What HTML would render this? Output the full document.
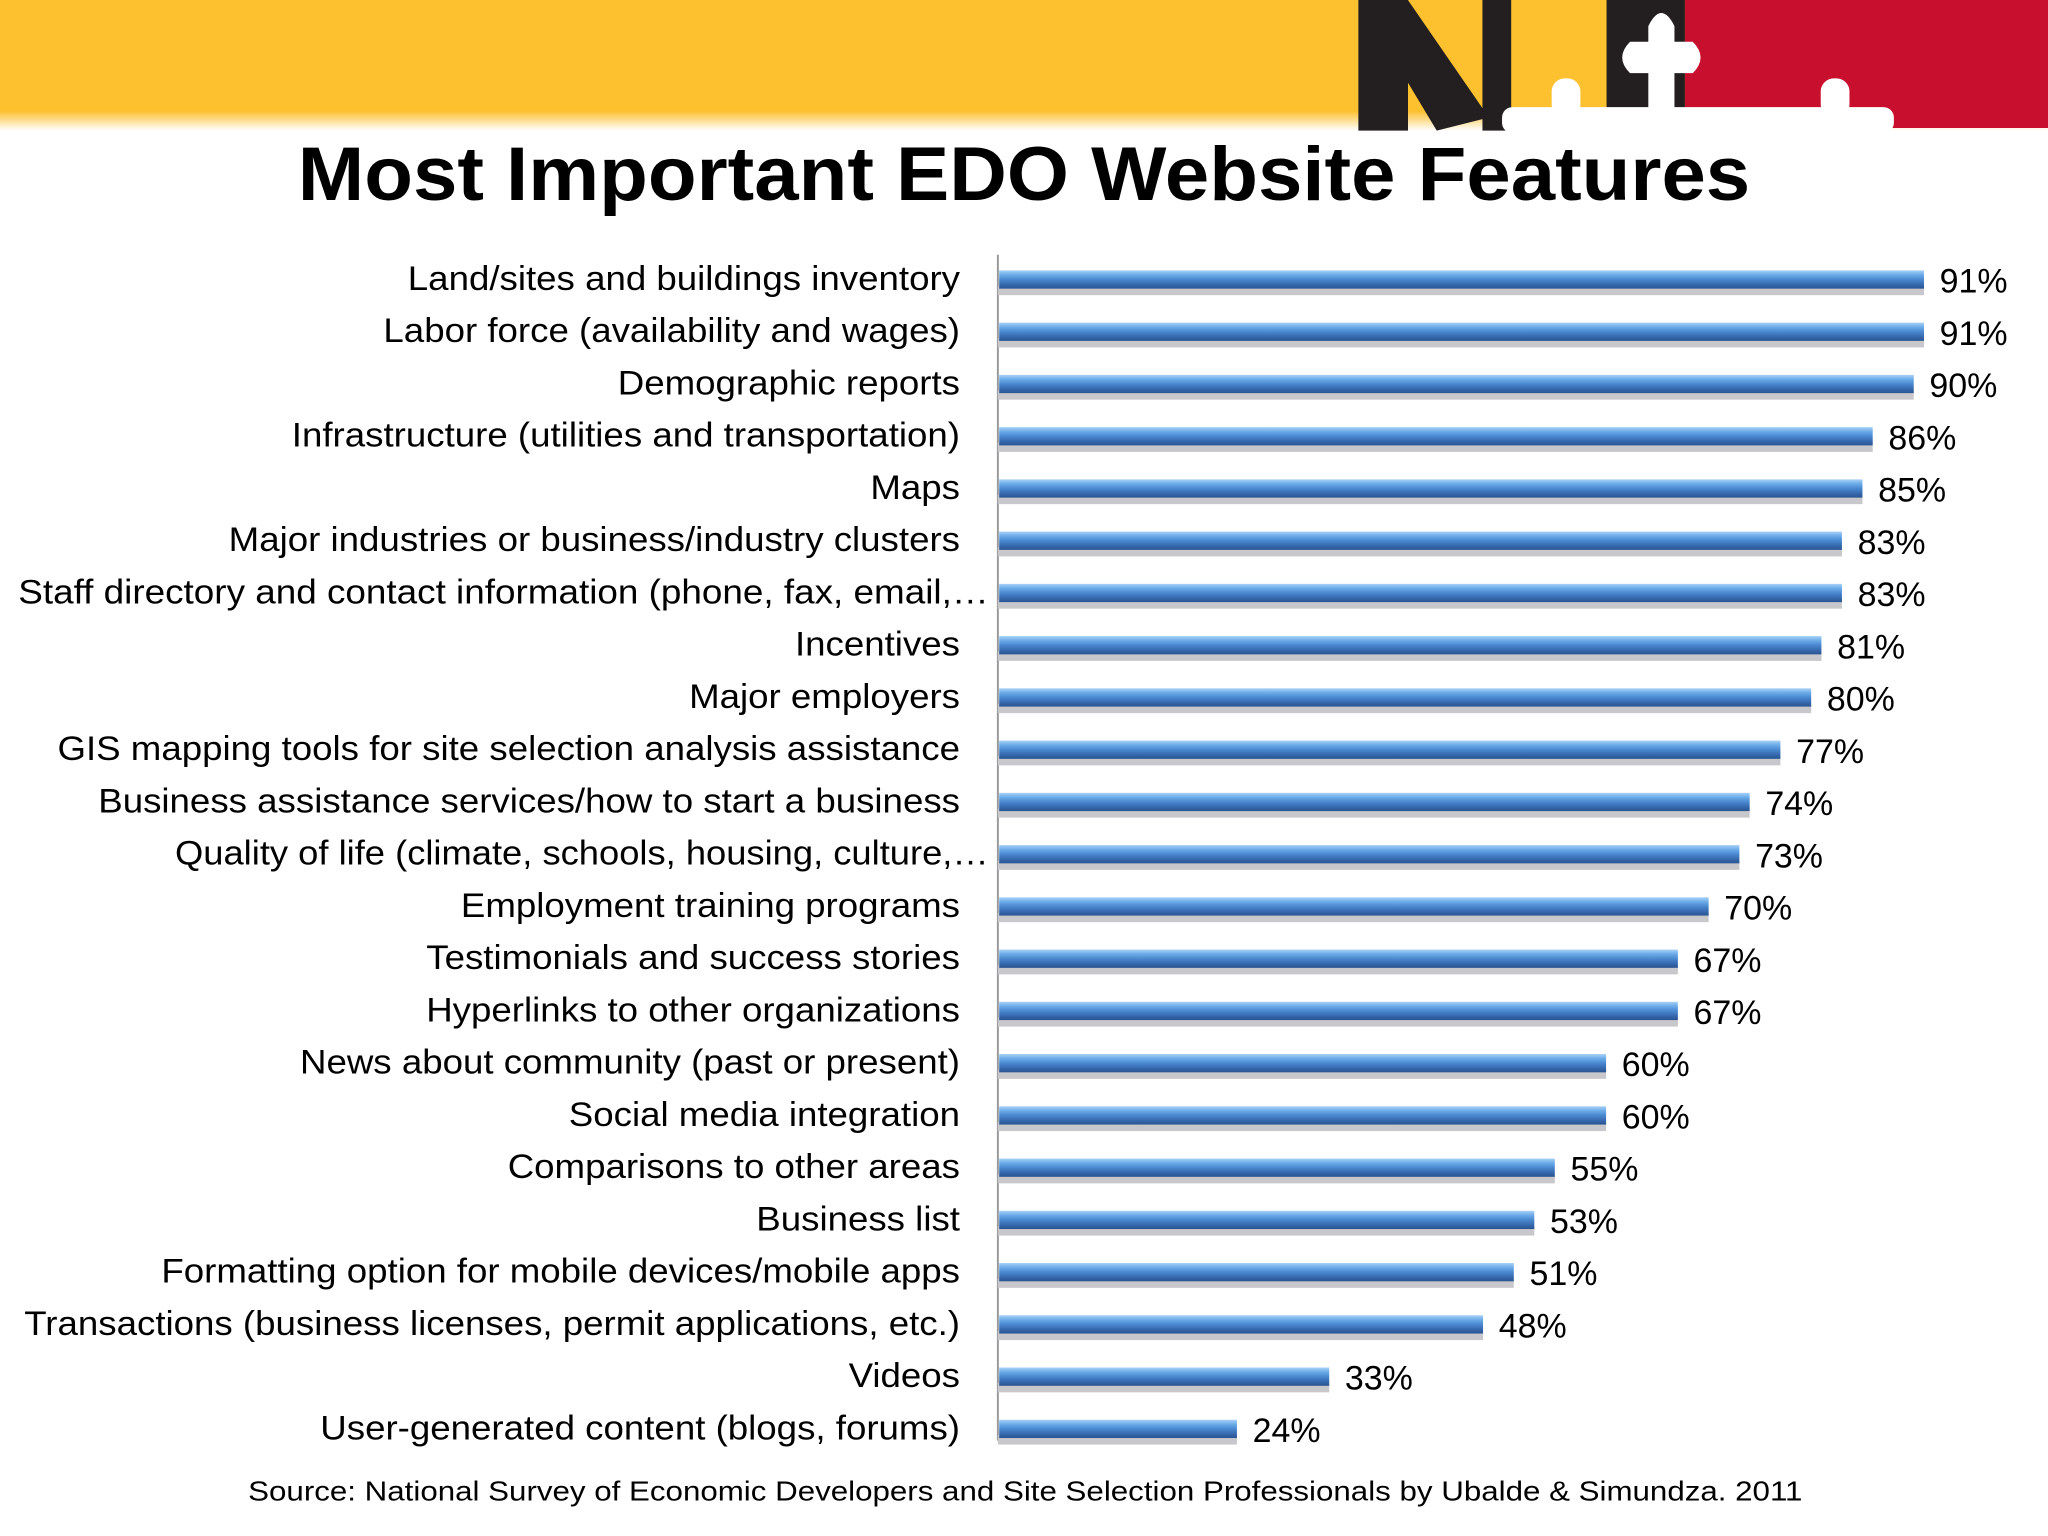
<!DOCTYPE html>
<html><head><meta charset="utf-8"><style>
html,body{margin:0;padding:0;background:#fff;}
svg{display:block;}
</style></head><body>
<svg id="chart" width="2048" height="1536" viewBox="0 0 1568 1176" xmlns="http://www.w3.org/2000/svg">
<defs>
<linearGradient id="bg" x1="0" y1="0" x2="0" y2="1">
<stop offset="0" stop-color="#a8d2f6"/><stop offset="0.25" stop-color="#6aaae8"/><stop offset="0.5" stop-color="#4a88d0"/><stop offset="0.8" stop-color="#3466aa"/><stop offset="1" stop-color="#2a5490"/>
</linearGradient>
<linearGradient id="fade" x1="0" y1="0" x2="0" y2="1">
<stop offset="0" stop-color="#fdc02f"/><stop offset="0.85" stop-color="#fdc02f"/><stop offset="1" stop-color="#fff"/>
</linearGradient>
</defs>
<g>
<rect x="0" y="0" width="1568" height="100" fill="url(#fade)"/>
<rect x="1040" y="0" width="38" height="100" fill="#231f20"/>
<polygon points="1040,0 1078,0 1140,90 1100,100" fill="#231f20"/>
<polygon points="1078,0 1140,0 1140,90" fill="#fdc02f"/>
<rect x="1135" y="0" width="22" height="100" fill="#231f20"/>
<rect x="1290" y="0" width="278" height="98" fill="#c8102e"/>
<rect x="1230" y="0" width="60" height="98" fill="#231f20"/>
<path d="M1262 20 q10 -20 20 0 v12 h14 q12 12 0 24 h-14 v30 h-20 v-30 h-14 q-12 -12 0 -24 h14z" fill="#fff"/>
<rect x="1150" y="82" width="300" height="20" rx="8" fill="#fff"/>
<rect x="1188" y="60" width="22" height="30" rx="10" fill="#fff"/>
<rect x="1394" y="60" width="22" height="30" rx="10" fill="#fff"/>
</g>
<text x="784" y="153" text-anchor="middle" font-family="Liberation Sans, sans-serif" font-weight="bold" font-size="58" textLength="1112" lengthAdjust="spacingAndGlyphs" fill="#000">Most Important EDO Website Features</text>
<line x1="764" y1="195" x2="764" y2="1103" stroke="#999" stroke-width="1.5"/>
<g id="bars"></g>
<text x="785" y="1149" text-anchor="middle" font-family="Liberation Sans, sans-serif" font-size="21" textLength="1190" lengthAdjust="spacingAndGlyphs" fill="#000">Source: National Survey of Economic Developers and Site Selection Professionals by Ubalde &amp; Simundza. 2011</text>
</svg>
<script>
const categories = ["Land/sites and buildings inventory","Labor force (availability and wages)","Demographic reports","Infrastructure (utilities and transportation)","Maps","Major industries or business/industry clusters","Staff directory and contact information (phone, fax, email,…","Incentives","Major employers","GIS mapping tools for site selection analysis assistance","Business assistance services/how to start a business","Quality of life (climate, schools, housing, culture,…","Employment training programs","Testimonials and success stories","Hyperlinks to other organizations","News about community (past or present)","Social media integration","Comparisons to other areas","Business list","Formatting option for mobile devices/mobile apps","Transactions (business licenses, permit applications, etc.)","Videos","User-generated content (blogs, forums)"];
const values = [91,91,90,86,85,83,83,81,80,77,74,73,70,67,67,60,60,55,53,51,48,33,24];
const valueLabels = ["91%","91%","90%","86%","85%","83%","83%","81%","80%","77%","74%","73%","70%","67%","67%","60%","60%","55%","53%","51%","48%","33%","24%"];
const NS="http://www.w3.org/2000/svg";
const g=document.getElementById('bars');
function xScale(v){return 758.6+7.851*v;}
function yScale(i){return 214+i*40;}
categories.forEach((c,i)=>{
  const y=yScale(i), x1=xScale(values[i]);
  const sh=document.createElementNS(NS,'rect');
  
  
  sh.setAttribute('x',764);sh.setAttribute('y',y+5);sh.setAttribute('width',x1-764);sh.setAttribute('height',7);sh.setAttribute('fill','#c8c8cc');
  g.appendChild(sh);
  const r=document.createElementNS(NS,'rect');
  
  
  r.setAttribute('x',765);r.setAttribute('y',y-7);r.setAttribute('width',x1-765);r.setAttribute('height',14);r.setAttribute('fill','url(#bg)');
  g.appendChild(r);
  const t=document.createElementNS(NS,'text');
  
  
  t.setAttribute('x',735);t.setAttribute('y',y+8);t.setAttribute('text-anchor','end');
  t.setAttribute('font-family','Liberation Sans, sans-serif');t.setAttribute('font-size','26');
  t.textContent=c;g.appendChild(t);
  const w=t.getComputedTextLength();
  t.setAttribute('lengthAdjust','spacingAndGlyphs');
  if(i==6){t.setAttribute('x',757);t.setAttribute('textLength',743);}
  else if(i==11){t.setAttribute('x',757);t.setAttribute('textLength',623);}
  else {t.setAttribute('textLength',w*1.08);}
  const v=document.createElementNS(NS,'text');
  
  
  v.setAttribute('x',x1+12);v.setAttribute('y',y+10);
  v.setAttribute('font-family','Liberation Sans, sans-serif');v.setAttribute('font-size','26');
  v.textContent=valueLabels[i];g.appendChild(v);
});
</script>
</body></html>
